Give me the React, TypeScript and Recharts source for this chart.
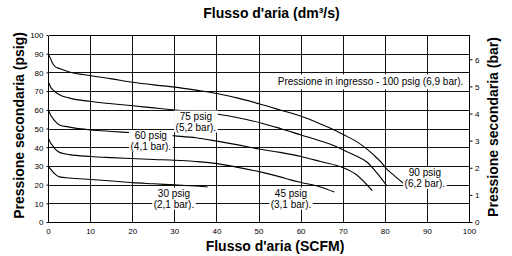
import React from 'react';
import { LineChart, Line, XAxis, YAxis, CartesianGrid, ReferenceDot } from 'recharts';

// ---- axis ticks ----
const scfmTicks = [0, 10, 20, 30, 40, 50, 60, 70, 80, 90, 100];
const psigTicks = [0, 10, 20, 30, 40, 50, 60, 70, 80, 90, 100];
const dm3sTicks = [0, 5, 10, 15, 20, 25, 30, 35, 40, 45];
const barTicks = [0, 1, 2, 3, 4, 5, 6];

// ---- unit conversions for secondary axes ----
const SCFM_PER_DM3S = 2.11888;
const PSI_PER_BAR = 14.5038;

// ---- curves: [flow SCFM, secondary pressure psig] ----
const curve90: [number, number][] = [
  [0, 90], [0.5, 87.5], [1, 85], [1.5, 83.5], [2.6, 82.3], [5, 80.5], [10, 78.5], [15, 76.8],
  [20, 75], [25, 73.6], [30, 72.4], [35, 70.8], [40, 69], [45, 66.5], [50, 63.5], [55, 60.2],
  [60, 56.8], [64.6, 52.7], [67.4, 50], [70, 47], [73, 43.5], [75.5, 39.5], [77.3, 36],
  [79.3, 31.5], [80.2, 29], [82, 25.3], [84.8, 20],
];
const curve75: [number, number][] = [
  [0, 75], [0.5, 72.5], [1, 71], [1.5, 70], [2.6, 68.3], [5, 66.5], [10, 64.7], [15, 63.5],
  [20, 62.4], [25, 61.3], [30, 60.2], [35, 59.2], [40, 58], [45, 56], [50, 53.5], [55, 50.3],
  [60, 46.8], [64.6, 43.6], [67, 41.8], [70, 38.8], [72.5, 36.2], [75.7, 32.2],
  [78, 26.5], [80.4, 19.5],
];
const curve60: [number, number][] = [
  [0, 60], [0.5, 57.5], [1, 55.8], [1.5, 54.3], [2.6, 52.2], [5, 51], [10, 49.5], [15, 48.7],
  [20, 48], [25, 47.2], [30, 46.3], [35, 45.3], [40, 43.5], [45, 41.5], [50, 39.3], [55, 37.5],
  [60, 35.3], [64.6, 32.6], [70, 29.3], [73, 25.8], [76.9, 17],
];
const curve45: [number, number][] = [
  [0, 45], [0.5, 42.5], [1, 41], [1.5, 39.5], [2.6, 37.5], [5, 36.3], [10, 35.3], [15, 34.7],
  [20, 34.2], [25, 33.7], [30, 33.3], [35, 32.6], [40, 31.5], [45, 29.5], [50, 27.2],
  [55, 24.4], [57.5, 22.8], [60, 21.4], [64.6, 19], [67.9, 16.3],
];
const curve30: [number, number][] = [
  [0, 30], [0.5, 28.5], [1, 27.2], [1.5, 26], [2.6, 24.4], [5, 23.8], [10, 23], [15, 22.2],
  [20, 21.3], [25, 20.7], [30, 20.1], [35, 19.5], [37.8, 19],
];
const curves = [curve90, curve75, curve60, curve45, curve30];

// ---- annotations ----
const annotationTexts: string[][] = [
  ['Pressione in ingresso - 100 psig (6,9 bar).'],
  ['75 psig', '(5,2 bar).'],
  ['60 psig', '(4,1 bar).'],
  ['30 psig', '(2,1 bar).'],
  ['45 psig', '(3,1 bar).'],
  ['90 psig', '(6,2 bar).'],
];
const annotationAt: [number, number][] = [
  [76.5, 75.2],
  [35.0, 54.0],
  [24.3, 43.6],
  [29.8, 12.8],
  [57.6, 12.8],
  [89.4, 23.8],
];

const FONT = '"Liberation Sans", Arial, Helvetica, sans-serif';

const CW: Record<string, number> = {
  ' ': 278, '(': 333, ')': 333, '.': 278, ',': 278, '-': 333, a: 556, b: 556, e: 556, g: 556,
  i: 222, n: 556, o: 556, p: 556, r: 333, s: 500, P: 667,
};
const textWidth = (s: string, fs: number) =>
  (s.split('').reduce((a, c) => a + (CW[c] ?? 556), 0) * fs) / 1000;

function LabelBox(props: any) {
  const { cx, cy, lines } = props;
  if (typeof cx !== 'number' || typeof cy !== 'number') return null;
  const fs = 10;
  const lh = 11;
  const w = Math.max(...lines.map((l: string) => textWidth(l, fs)));
  const h = lines.length * lh + (lines.length === 1 ? 4 : 0);
  return (
    <g>
      <rect x={cx - w / 2 - 1.5} y={cy - h / 2} width={w + 3} height={h} fill="#fff" stroke="none" />
      {lines.map((l: string, i: number) => (
        <text
          key={i}
          x={cx}
          y={cy - (lines.length * lh) / 2 + lh * i + lh / 2 + 0.355 * fs}
          textAnchor="middle"
          fontSize={fs}
          fontFamily={FONT}
          fill="#000"
        >
          {l}
        </text>
      ))}
    </g>
  );
}

function Title(props: any) {
  const { tx, ty, rot, text } = props;
  return (
    <text
      x={tx}
      y={ty}
      transform={rot ? `rotate(-90 ${tx} ${ty})` : undefined}
      textAnchor="middle"
      fontSize={14}
      fontWeight="bold"
      fontFamily={FONT}
      fill="#000"
    >
      {text}
    </text>
  );
}

const GridLine = (p: any) => (
  <line
    x1={p.x1}
    y1={p.y1}
    x2={p.x2}
    y2={p.y2}
    stroke="#111"
    strokeWidth={1}
    shapeRendering="crispEdges"
    fill="none"
  />
);

const tickStyle = { fontSize: 8, fill: '#000', fontFamily: FONT };
const axisLineStyle = { stroke: '#000', shapeRendering: 'crispEdges' };

export default function App() {
  return (
    <div style={{ position: 'absolute', left: 0, top: 0, width: 512, height: 256, background: '#fff' }}>
      <LineChart width={512} height={256} margin={{ top: 0, right: 0, bottom: 0, left: 0 }}>
        <CartesianGrid horizontal={GridLine} vertical={GridLine} />
        <XAxis
          xAxisId={0}
          type="number"
          dataKey="q"
          domain={[0, 100]}
          ticks={scfmTicks}
          interval={0}
          allowDataOverflow
          height={33.5}
          tickSize={3}
          tickMargin={3}
          tickLine={false}
          stroke="#000"
          axisLine={axisLineStyle}
          tick={tickStyle}
          label={<Title tx={275} ty={250.5} text="Flusso d'aria (SCFM)" />}
        />
        <XAxis
          xAxisId="top"
          orientation="top"
          type="number"
          domain={[0, 100 / SCFM_PER_DM3S]}
          ticks={dm3sTicks}
          interval={0}
          allowDataOverflow
          height={35.5}
          tickSize={2}
          tickMargin={5.6}
          stroke="#000"
          tickLine={{ stroke: '#000' }}
          axisLine={axisLineStyle}
          tick={tickStyle}
          label={<Title tx={271.5} ty={18.3} text="Flusso d'aria (dm³/s)" />}
        />
        <YAxis
          yAxisId={0}
          type="number"
          domain={[0, 100]}
          ticks={psigTicks}
          interval={0}
          allowDataOverflow
          width={48.5}
          tickSize={2}
          tickMargin={3}
          stroke="#000"
          tickLine={{ stroke: '#000' }}
          axisLine={axisLineStyle}
          tick={tickStyle}
          label={<Title tx={23.5} ty={125.5} rot text="Pressione secondaria (psig)" />}
        />
        <YAxis
          yAxisId="bar"
          orientation="right"
          type="number"
          domain={[0, 100 / PSI_PER_BAR]}
          ticks={barTicks}
          interval={0}
          allowDataOverflow
          width={42.5}
          tickSize={3}
          tickMargin={2.5}
          stroke="#000"
          tickLine={{ stroke: '#000' }}
          axisLine={axisLineStyle}
          tick={tickStyle}
          label={<Title tx={497.5} ty={127} rot text="Pressione secondaria (bar)" />}
        />
        {curves.map((c, i) => (
          <Line
            key={i}
            data={c.map(([q, p]) => ({ q, p }))}
            dataKey="p"
            xAxisId={0}
            yAxisId={0}
            type="monotone"
            stroke="#000"
            strokeWidth={1.1}
            dot={false}
            activeDot={false}
            isAnimationActive={false}
          />
        ))}
        {annotationTexts.map((lines, i) => (
          <ReferenceDot
            key={'a' + i}
            x={annotationAt[i][0]}
            y={annotationAt[i][1]}
            xAxisId={0}
            yAxisId={0}
            r={1}
            zIndex={2000}
            shape={(p: any) => <LabelBox cx={p.cx} cy={p.cy} lines={lines} />}
          />
        ))}
      </LineChart>
    </div>
  );
}
